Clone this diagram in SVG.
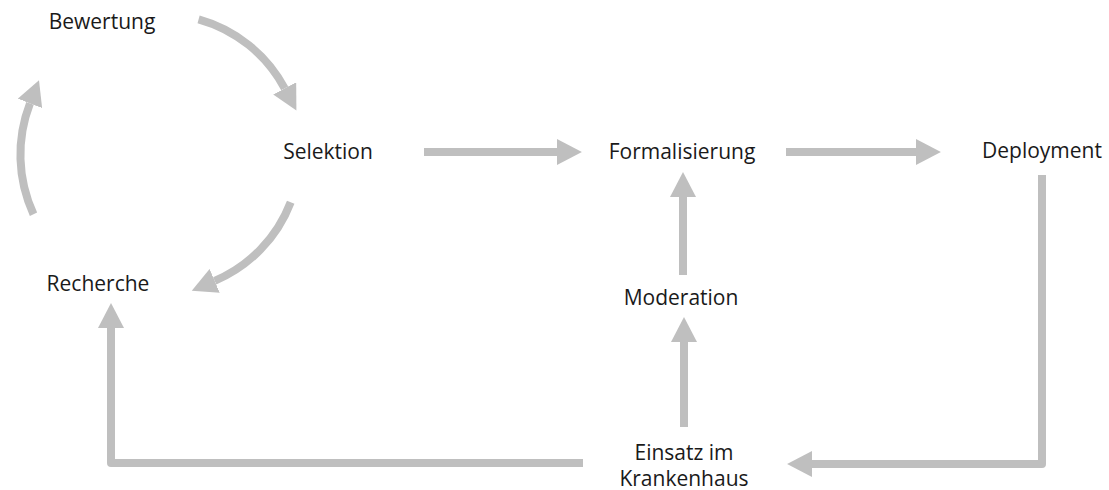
<svg xmlns="http://www.w3.org/2000/svg" width="1109" height="490" viewBox="0 0 1109 490">
  <style>
    .lbl { font-family: "Open Sans", "Liberation Sans", sans-serif; font-size: 21px; fill: #1a1a1a; text-anchor: middle; }
    .flow { fill: none; stroke: #bfbfbf; stroke-width: 8; }
  </style>
  <defs>
    <marker id="head" markerUnits="userSpaceOnUse" markerWidth="26" markerHeight="26" refX="0" refY="12" orient="auto" viewBox="0 0 24 24">
      <polygon points="0,0 23,12 0,24" fill="#bfbfbf"/>
    </marker>
  </defs>
  <rect width="1109" height="490" fill="#ffffff"/>

  <g id="connectors">
    <!-- research cycle -->
    <path class="flow" d="M198.6,19.3 A140,140 0 0 1 284.7,88.4" marker-end="url(#head)"/>
    <path class="flow" d="M290.7,202.2 A140,140 0 0 1 214.7,280.9" marker-end="url(#head)"/>
    <path class="flow" d="M33.5,214.2 A142,142 0 0 1 30,103.4" marker-end="url(#head)"/>
    <!-- main pipeline -->
    <path class="flow" d="M424,152 H557" marker-end="url(#head)"/>
    <path class="flow" d="M786,152 H916" marker-end="url(#head)"/>
    <path class="flow" d="M1042,175 V464 H812" stroke-linejoin="round" marker-end="url(#head)"/>
    <path class="flow" d="M583,463 H111 V328" stroke-linejoin="round" marker-end="url(#head)"/>
    <path class="flow" d="M684,427 V342" marker-end="url(#head)"/>
    <path class="flow" d="M683,275 V197" marker-end="url(#head)"/>
  </g>

  <g id="bewertung"><text class="lbl" x="102" y="29">Bewertung</text></g>
  <g id="selektion"><text class="lbl" x="328" y="159">Selektion</text></g>
  <g id="recherche"><text class="lbl" x="98" y="291">Recherche</text></g>
  <g id="formalisierung"><text class="lbl" x="682" y="159">Formalisierung</text></g>
  <g id="deployment"><text class="lbl" x="1042" y="158">Deployment</text></g>
  <g id="moderation"><text class="lbl" x="681" y="305">Moderation</text></g>
  <g id="einsatz">
    <text class="lbl" x="684" y="460">Einsatz im</text>
    <text class="lbl" x="684" y="486">Krankenhaus</text>
  </g>
</svg>
